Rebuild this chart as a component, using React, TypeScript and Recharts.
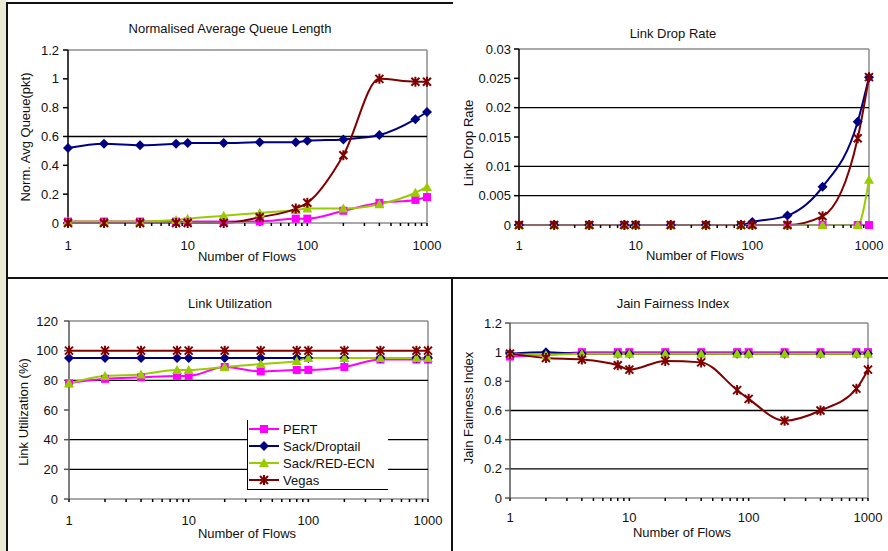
import React from 'react';
import { LineChart, Line, XAxis, YAxis, ReferenceLine } from 'recharts';

// number of flows (x, log scale)
const flows = [1, 2, 4, 8, 10, 20, 40, 80, 100, 200, 400, 800, 1000];
const majorTicks = [1, 10, 100, 1000];
const flowTicks = [
    1, 2, 3, 4, 5, 6, 7, 8, 9,
    10, 20, 30, 40, 50, 60, 70, 80, 90,
    100, 200, 300, 400, 500, 600, 700, 800, 900,
    1000,
];

// normalised average queue length
const pertQueue = [0.01, 0.01, 0.01, 0.01, 0.01, 0.01, 0.01, 0.03, 0.03, 0.085, 0.14, 0.16, 0.18];
const droptailQueue = [0.52, 0.55, 0.54, 0.55, 0.555, 0.555, 0.56, 0.56, 0.57, 0.58, 0.61, 0.72, 0.77];
const redQueue = [0.01, 0.01, 0.01, 0.02, 0.03, 0.05, 0.07, 0.09, 0.1, 0.1, 0.13, 0.21, 0.25];
const vegasQueue = [0, 0, 0, 0, 0, 0, 0.04, 0.1, 0.14, 0.47, 1.0, 0.98, 0.98];

// link drop rate
const pertDrop = [0, 0, 0, 0, 0, 0, 0, 0, 0, 0, 0, 0, 0];
const droptailDrop = [0, 0, 0, 0, 0, 0, 0, 0, 0.0005, 0.0016, 0.0065, 0.0176, 0.0252];
const redDrop = [0, 0, 0, 0, 0, 0, 0, 0, 0, 0, 0, 0, 0.0077];
const vegasDrop = [0, 0, 0, 0, 0, 0, 0, 0, 0, 0, 0.0015, 0.0148, 0.0252];

// link utilization (%)
const pertUtil = [78, 81, 82, 83, 83, 89, 86, 87, 87, 89, 94, 94, 94];
const droptailUtil = [95, 95, 95, 95, 95, 95, 95, 95, 95, 95, 95, 95, 95];
const redUtil = [78, 83, 84, 87, 87, 89, 91, 93, 95, 95, 95, 95, 95];
const vegasUtil = [100, 100, 100, 100, 100, 100, 100, 100, 100, 100, 100, 100, 100];

// jain fairness index
const pertFair = [0.97, 0.98, 1, 1, 1, 1, 1, 1, 1, 1, 1, 1, 1];
const droptailFair = [0.99, 1, 0.99, 0.99, 0.99, 0.99, 0.99, 0.99, 0.99, 0.99, 0.99, 0.99, 0.99];
const redFair = [0.99, 0.98, 0.99, 0.99, 0.99, 0.99, 0.99, 0.99, 0.99, 0.99, 0.99, 0.99, 0.99];
const vegasFair = [0.99, 0.96, 0.95, 0.91, 0.88, 0.94, 0.93, 0.74, 0.68, 0.53, 0.6, 0.75, 0.88];

const queueTicks = [0, 0.2, 0.4, 0.6, 0.8, 1, 1.2];
const dropTicks = [0, 0.005, 0.01, 0.015, 0.02, 0.025, 0.03];
const utilTicks = [0, 20, 40, 60, 80, 100, 120];
const fairTicks = [0, 0.2, 0.4, 0.6, 0.8, 1, 1.2];

const seriesNames = ['PERT', 'Sack/Droptail', 'Sack/RED-ECN', 'Vegas'];

const FONT = '"Liberation Sans", Arial, sans-serif';
const PINK = '#ff00ff';
const NAVY = '#000080';
const LIME = '#99cc00';
const MAROON = '#800000';
const FRAME = '#8c8c8c';

const buildRows = (a: number[], b: number[], c: number[], d: number[]) =>
    flows.map((f, i) => ({ flows: f, pert: a[i], droptail: b[i], red: c[i], vegas: d[i] }));

function Marker({ kind, cx, cy }: { kind: string; cx: number; cy: number }) {
    if (kind === 'pert') return <rect x={cx - 4} y={cy - 4} width={8} height={8} fill={PINK} />;
    if (kind === 'droptail')
        return <polygon points={`${cx},${cy - 5} ${cx + 5},${cy} ${cx},${cy + 5} ${cx - 5},${cy}`} fill={NAVY} />;
    if (kind === 'red')
        return <polygon points={`${cx},${cy - 5} ${cx + 5},${cy + 4} ${cx - 5},${cy + 4}`} fill={LIME} />;
    return (
        <path
            d={`M${cx - 4},${cy - 4}L${cx + 4},${cy + 4}M${cx + 4},${cy - 4}L${cx - 4},${cy + 4}M${cx},${cy - 5}L${cx},${cy + 5}`}
            stroke={MAROON}
            strokeWidth={2}
            fill="none"
        />
    );
}

const dotFor = (kind: string) => (p: any) =>
    <Marker key={`${kind}-${p.index}`} kind={kind} cx={p.cx} cy={p.cy} />;

interface PanelProps {
    box: { left: number; top: number; width: number; height: number };
    plot: { left: number; top: number; right: number; bottom: number };
    rows: any[];
    yTicks: number[];
    grid: number[];
    yTickMargin: number;
    xTickMargin: number;
    yAxisColor: string;
}

function Panel({ box, plot, rows, yTicks, grid, yTickMargin, xTickMargin, yAxisColor }: PanelProps) {
    const yAxisWidth = 50;
    const xAxisHeight = 30;
    const margin = {
        top: plot.top - box.top,
        left: plot.left - box.left - yAxisWidth,
        right: box.left + box.width - plot.right,
        bottom: box.top + box.height - plot.bottom - xAxisHeight,
    };
    const yMax = yTicks[yTicks.length - 1];
    return (
        <div style={{ position: 'absolute', left: box.left, top: box.top }}>
            <LineChart width={box.width} height={box.height} data={rows} margin={margin}>
                <XAxis
                    dataKey="flows"
                    type="number"
                    scale="log"
                    domain={[1, 1000]}
                    ticks={flowTicks}
                    interval={0}
                    height={xAxisHeight}
                    tickSize={3}
                    tickMargin={xTickMargin}
                    tickFormatter={(v) => (majorTicks.includes(v) ? String(v) : '')}
                    tick={{ fontSize: 13, fill: '#111', fontFamily: FONT }}
                    tickLine={{ stroke: '#000', strokeWidth: 1.5 }}
                    axisLine={{ stroke: FRAME, strokeWidth: 1.5 }}
                />
                <YAxis
                    type="number"
                    domain={[0, yMax]}
                    ticks={yTicks}
                    interval={0}
                    width={yAxisWidth}
                    tickSize={5}
                    tickMargin={yTickMargin}
                    tick={{ fontSize: 13, fill: '#111', fontFamily: FONT }}
                    tickLine={{ stroke: yAxisColor, strokeWidth: 1.5 }}
                    axisLine={{ stroke: yAxisColor, strokeWidth: 1.5 }}
                />
                <ReferenceLine y={yMax} stroke={FRAME} strokeWidth={1.5} />
                <ReferenceLine x={1000} stroke={FRAME} strokeWidth={1.5} />
                {grid.map((v) => (
                    <ReferenceLine key={v} y={v} stroke="#000" strokeWidth={1.3} />
                ))}
                <Line type="monotone" dataKey="pert" stroke={PINK} strokeWidth={2} dot={dotFor('pert')} isAnimationActive={false} />
                <Line type="monotone" dataKey="droptail" stroke={NAVY} strokeWidth={2} dot={dotFor('droptail')} isAnimationActive={false} />
                <Line type="monotone" dataKey="red" stroke={LIME} strokeWidth={2} dot={dotFor('red')} isAnimationActive={false} />
                <Line type="monotone" dataKey="vegas" stroke={MAROON} strokeWidth={2} dot={dotFor('vegas')} isAnimationActive={false} />
            </LineChart>
        </div>
    );
}

function Label({ x, y, text, rotate }: { x: number; y: number; text: string; rotate?: boolean }) {
    return (
        <div
            style={{
                position: 'absolute',
                left: x,
                top: y,
                transform: `translate(-50%, -50%)${rotate ? ' rotate(-90deg)' : ''}`,
                whiteSpace: 'nowrap',
                fontFamily: FONT,
                fontSize: 13,
                color: '#111',
            }}
        >
            {text}
        </div>
    );
}

const line = (left: number, top: number, width: number, height: number) => (
    <div style={{ position: 'absolute', left, top, width, height, background: '#111' }} />
);

export default function App() {
    const kinds = ['pert', 'droptail', 'red', 'vegas'];
    const colors = [PINK, NAVY, LIME, MAROON];
    return (
        <div style={{ position: 'absolute', left: 0, top: 0, width: 888, height: 551, background: '#fff', overflow: 'hidden' }}>
            <div style={{ position: 'absolute', left: 0, top: 0, width: 6, height: 551, background: '#ebead4' }} />
            {line(7, 2, 446, 2)}
            {line(6, 2, 2, 549)}
            {line(6, 277, 882, 2)}
            {line(451, 277, 2, 274)}

            <Panel
                box={{ left: 8, top: 4, width: 444, height: 273 }}
                plot={{ left: 68, top: 50, right: 427, bottom: 223 }}
                rows={buildRows(pertQueue, droptailQueue, redQueue, vegasQueue)}
                yTicks={queueTicks}
                grid={[0.6]}
                yTickMargin={4}
                xTickMargin={15}
                yAxisColor="#000"
            />
            <Panel
                box={{ left: 453, top: 4, width: 435, height: 273 }}
                plot={{ left: 519, top: 49, right: 869, bottom: 225 }}
                rows={buildRows(pertDrop, droptailDrop, redDrop, vegasDrop)}
                yTicks={dropTicks}
                grid={[0.005, 0.01, 0.02]}
                yTickMargin={3}
                xTickMargin={13}
                yAxisColor="#000"
            />
            <Panel
                box={{ left: 8, top: 279, width: 443, height: 272 }}
                plot={{ left: 69, top: 321, right: 428, bottom: 499 }}
                rows={buildRows(pertUtil, droptailUtil, redUtil, vegasUtil)}
                yTicks={utilTicks}
                grid={[20, 40, 80]}
                yTickMargin={6}
                xTickMargin={14}
                yAxisColor="#555"
            />
            <Panel
                box={{ left: 453, top: 279, width: 435, height: 272 }}
                plot={{ left: 510, top: 323, right: 868, bottom: 498 }}
                rows={buildRows(pertFair, droptailFair, redFair, vegasFair)}
                yTicks={fairTicks}
                grid={[0.2, 0.4, 0.6]}
                yTickMargin={3}
                xTickMargin={12}
                yAxisColor="#555"
            />

            <Label x={230} y={28} text="Normalised Average Queue Length" />
            <Label x={673} y={33} text="Link Drop Rate" />
            <Label x={230} y={303} text="Link Utilization" />
            <Label x={673} y={303} text="Jain Fairness Index" />

            <Label x={247} y={256} text="Number of Flows" />
            <Label x={695} y={255} text="Number of Flows" />
            <Label x={247} y={533} text="Number of Flows" />
            <Label x={682} y={532} text="Number of Flows" />

            <Label x={25} y={137} text="Norm. Avg Queue(pkt)" rotate />
            <Label x={468} y={143} text="Link Drop Rate" rotate />
            <Label x={23} y={412} text="Link Utilization (%)" rotate />
            <Label x={468} y={408} text="Jain Fairness Index" rotate />

            <div
                style={{
                    position: 'absolute',
                    left: 247,
                    top: 420,
                    width: 140,
                    height: 69,
                    background: '#fff',
                    borderLeft: '1.5px solid #000',
                    borderBottom: '1.5px solid #000',
                    fontFamily: FONT,
                    fontSize: 13,
                    color: '#111',
                }}
            >
                {seriesNames.map((name, i) => (
                    <div key={name} style={{ position: 'absolute', left: 0, top: 1 + i * 17, height: 16, display: 'flex', alignItems: 'center' }}>
                        <svg width={34} height={16} style={{ display: 'block' }}>
                            <line x1={1} y1={8} x2={31} y2={8} stroke={colors[i]} strokeWidth={2} />
                            <Marker kind={kinds[i]} cx={16} cy={8} />
                        </svg>
                        <span style={{ marginLeft: 1 }}>{name}</span>
                    </div>
                ))}
            </div>
        </div>
    );
}
